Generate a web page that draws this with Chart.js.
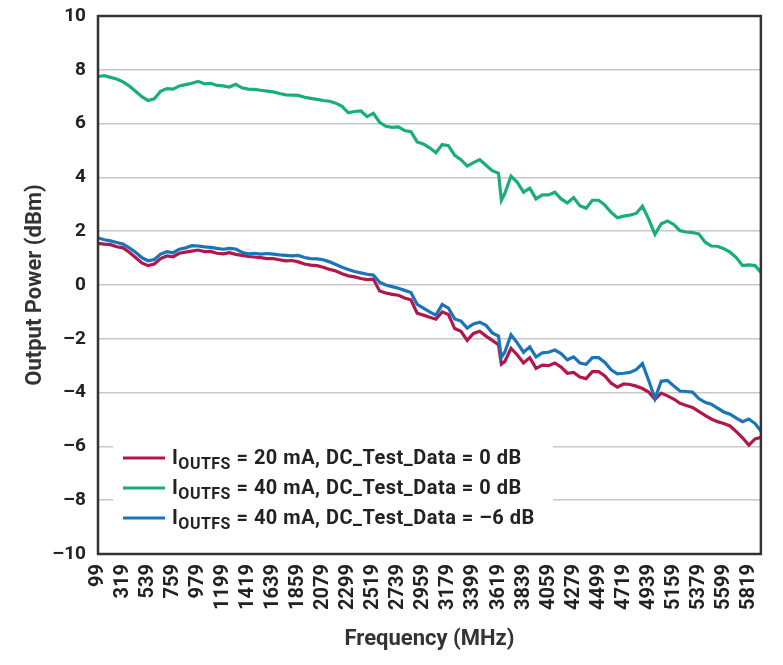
<!DOCTYPE html>
<html>
<head>
<meta charset="utf-8">
<script src="https://cdn.jsdelivr.net/npm/chart.js@4.4.1/dist/chart.umd.min.js"></script>
<style>
  html, body { margin: 0; padding: 0; background: #fff; }
  #wrap { width: 783px; height: 665px; position: relative; }
</style>
</head>
<body>
<div id="wrap"><canvas id="power-chart"></canvas></div>
<script>
// Output power vs frequency, three IOUTFS / DC_Test_Data settings

const freqMHz = [
  99, 154, 209, 264, 319, 374, 429, 484, 539, 594,
  649, 704, 759, 814, 869, 924, 979, 1034, 1089, 1144,
  1199, 1254, 1309, 1364, 1419, 1474, 1529, 1584, 1639, 1694,
  1749, 1804, 1859, 1914, 1969, 2024, 2079, 2134, 2189, 2244,
  2299, 2354, 2409, 2464, 2519, 2574, 2629, 2684, 2739, 2794,
  2849, 2904, 2959, 3014, 3069, 3124, 3179, 3234, 3289, 3344,
  3399, 3454, 3509, 3564, 3619, 3644, 3674, 3729, 3784, 3839,
  3894, 3949, 4004, 4059, 4114, 4169, 4224, 4279, 4334, 4389,
  4444, 4499, 4554, 4609, 4664, 4719, 4774, 4829, 4884, 4939,
  4994, 5049, 5104, 5159, 5214, 5269, 5324, 5379, 5434, 5489,
  5544, 5599, 5654, 5709, 5764, 5819, 5874, 5929
];

// IOUTFS = 20 mA, DC_Test_Data = 0 dB
const power20mA = [
  1.55, 1.52, 1.50, 1.42, 1.38, 1.22, 1.02, 0.82, 0.72, 0.78,
  0.98, 1.08, 1.05, 1.18, 1.22, 1.26, 1.30, 1.24, 1.25, 1.18,
  1.16, 1.20, 1.14, 1.10, 1.06, 1.04, 1.02, 0.98, 0.98, 0.94,
  0.90, 0.91, 0.86, 0.78, 0.74, 0.72, 0.66, 0.58, 0.52, 0.42,
  0.34, 0.30, 0.24, 0.20, 0.22, -0.22, -0.30, -0.35, -0.38, -0.48,
  -0.55, -1.05, -1.12, -1.20, -1.27, -1.00, -1.10, -1.62, -1.72, -2.06,
  -1.80, -1.72, -1.90, -2.06, -2.22, -2.94, -2.85, -2.35, -2.60, -2.90,
  -2.70, -3.10, -2.98, -3.00, -2.90, -3.05, -3.28, -3.25, -3.42, -3.48,
  -3.22, -3.22, -3.38, -3.65, -3.80, -3.68, -3.70, -3.76, -3.85, -3.98,
  -4.25, -4.02, -4.12, -4.24, -4.40, -4.48, -4.55, -4.70, -4.85, -4.98,
  -5.08, -5.15, -5.24, -5.45, -5.68, -5.95, -5.72, -5.66
];

// IOUTFS = 40 mA, DC_Test_Data = 0 dB
const power40mA = [
  7.75, 7.78, 7.72, 7.66, 7.55, 7.40, 7.20, 7.00, 6.86, 6.92,
  7.20, 7.30, 7.28, 7.40, 7.45, 7.50, 7.57, 7.48, 7.50, 7.42,
  7.40, 7.36, 7.46, 7.33, 7.28, 7.27, 7.24, 7.21, 7.18, 7.12,
  7.07, 7.06, 7.05, 6.98, 6.94, 6.90, 6.86, 6.83, 6.76, 6.64,
  6.40, 6.45, 6.47, 6.26, 6.38, 6.05, 5.90, 5.86, 5.88, 5.74,
  5.70, 5.32, 5.24, 5.10, 4.92, 5.22, 5.18, 4.82, 4.66, 4.42,
  4.55, 4.66, 4.45, 4.25, 4.15, 3.15, 3.40, 4.05, 3.82, 3.45,
  3.60, 3.20, 3.35, 3.35, 3.45, 3.20, 3.05, 3.25, 2.95, 2.85,
  3.15, 3.15, 2.97, 2.70, 2.50, 2.56, 2.60, 2.66, 2.93, 2.45,
  1.88, 2.28, 2.38, 2.25, 2.02, 1.97, 1.95, 1.90, 1.60, 1.45,
  1.44, 1.35, 1.22, 1.02, 0.72, 0.75, 0.72, 0.45
];

// IOUTFS = 40 mA, DC_Test_Data = -6 dB
const power40mAm6 = [
  1.75, 1.68, 1.64, 1.58, 1.52, 1.38, 1.22, 1.02, 0.90, 0.95,
  1.15, 1.24, 1.20, 1.33, 1.38, 1.46, 1.45, 1.42, 1.40, 1.36,
  1.33, 1.36, 1.34, 1.22, 1.16, 1.18, 1.15, 1.17, 1.15, 1.12,
  1.10, 1.08, 1.10, 1.02, 0.98, 0.97, 0.94, 0.86, 0.76, 0.66,
  0.58, 0.50, 0.45, 0.40, 0.37, 0.10, 0.00, -0.06, -0.12, -0.20,
  -0.28, -0.72, -0.86, -1.00, -1.12, -0.72, -0.86, -1.26, -1.34, -1.60,
  -1.45, -1.38, -1.50, -1.78, -1.90, -2.69, -2.50, -1.85, -2.15, -2.50,
  -2.30, -2.68, -2.52, -2.50, -2.42, -2.55, -2.78, -2.67, -2.90, -2.95,
  -2.70, -2.70, -2.88, -3.15, -3.30, -3.28, -3.25, -3.15, -2.92, -3.55,
  -4.22, -3.58, -3.55, -3.75, -3.94, -3.96, -3.98, -4.22, -4.36, -4.43,
  -4.58, -4.72, -4.80, -4.95, -5.08, -4.98, -5.15, -5.45
];

const freqTicks = [
  99, 319, 539, 759, 979, 1199, 1419, 1639, 1859, 2079, 2299, 2519, 2739, 2959,
  3179, 3399, 3619, 3839, 4059, 4279, 4499, 4719, 4939, 5159, 5379, 5599, 5819
];

const legendTexts = [
  ' = 20 mA, DC_Test_Data = 0 dB',
  ' = 40 mA, DC_Test_Data = 0 dB',
  ' = 40 mA, DC_Test_Data = \u20136 dB'
];
const seriesColors = ['#b1174b', '#1aae77', '#1b73b9'];

const toPoints = arr => freqMHz.map((f, i) => ({ x: f, y: arr[i] }));

// white legend box inside the plot + dark frame around the plot area
const frameAndLegend = {
  id: 'frameAndLegend',
  afterDatasetsDraw(chart) {
    const { ctx, chartArea: a } = chart;
    ctx.save();

    const bx = a.left + 15, by = a.bottom - 118;
    ctx.fillStyle = '#ffffff';
    ctx.fillRect(bx, by, 440, 100);

    legendTexts.forEach((txt, i) => {
      const yy = by + 22 + i * 30;
      ctx.strokeStyle = seriesColors[i];
      ctx.lineWidth = 3;
      ctx.beginPath();
      ctx.moveTo(bx + 10, yy);
      ctx.lineTo(bx + 52, yy);
      ctx.stroke();

      ctx.fillStyle = '#222';
      ctx.textBaseline = 'middle';
      ctx.textAlign = 'left';
      ctx.letterSpacing = '0.5px';
      let tx = bx + 59;
      ctx.font = 'bold 20px Roboto';
      ctx.fillText('I', tx, yy + 1);
      tx += ctx.measureText('I').width;
      ctx.font = 'bold 16px Roboto';
      ctx.fillText('OUTFS', tx, yy + 7);
      tx += ctx.measureText('OUTFS').width;
      ctx.font = 'bold 20px Roboto';
      ctx.fillText(txt, tx, yy + 1);
      ctx.letterSpacing = '0px';
    });

    ctx.strokeStyle = '#333';
    ctx.lineWidth = 2.5;
    ctx.strokeRect(a.left, a.top, a.right - a.left, a.bottom - a.top);
    ctx.restore();
  }
};

new Chart(document.getElementById('power-chart'), {
  type: 'line',
  data: {
    datasets: [
      {
        label: 'IOUTFS = 20 mA, DC_Test_Data = 0 dB',
        data: toPoints(power20mA),
        borderColor: seriesColors[0],
        order: 3
      },
      {
        label: 'IOUTFS = 40 mA, DC_Test_Data = 0 dB',
        data: toPoints(power40mA),
        borderColor: seriesColors[1],
        order: 2
      },
      {
        label: 'IOUTFS = 40 mA, DC_Test_Data = -6 dB',
        data: toPoints(power40mAm6),
        borderColor: seriesColors[2],
        order: 1
      }
    ]
  },
  options: {
    responsive: true,
    maintainAspectRatio: false,
    animation: false,
    layout: { padding: { top: 16, right: 10, left: 0, bottom: 0 } },
    elements: {
      line: { borderWidth: 3.2, tension: 0, fill: false },
      point: { radius: 0 }
    },
    plugins: {
      legend: { display: false },
      tooltip: { enabled: false }
    },
    scales: {
      x: {
        type: 'linear',
        min: 99,
        max: 5925,
        afterBuildTicks: scale => {
          scale.ticks = freqTicks.map(v => ({ value: v }));
        },
        afterFit: scale => { scale.height = 111; },
        grid: { display: false, drawTicks: false },
        border: { display: false },
        ticks: {
          autoSkip: false,
          minRotation: 90,
          maxRotation: 90,
          padding: 10,
          color: '#222',
          font: { family: 'Roboto', weight: 'bold', size: 20 },
          callback: v => String(v)
        },
        title: {
          display: true,
          text: 'Frequency (MHz)',
          color: '#333',
          font: { family: 'Roboto', weight: 'bold', size: 22 },
          padding: { top: 4, bottom: 12 }
        }
      },
      y: {
        min: -10,
        max: 10,
        afterFit: scale => {
          scale.width = 98;
          scale.paddingTop = 0;
          scale.paddingBottom = 0;
        },
        grid: { color: '#c8c8c8', lineWidth: 1.5, drawTicks: false },
        border: { display: false },
        ticks: {
          stepSize: 2,
          padding: 12,
          color: '#222',
          font: { family: 'Roboto', weight: 'bold', size: 19 },
          callback: v => (v < 0 ? '\u2013' + Math.abs(v) : String(v))
        },
        title: {
          display: true,
          text: 'Output Power (dBm)',
          color: '#333',
          font: { family: 'Roboto', weight: 'bold', size: 22 },
          padding: { top: 22, bottom: 4 }
        }
      }
    }
  },
  plugins: [frameAndLegend]
});
</script>
</body>
</html>
